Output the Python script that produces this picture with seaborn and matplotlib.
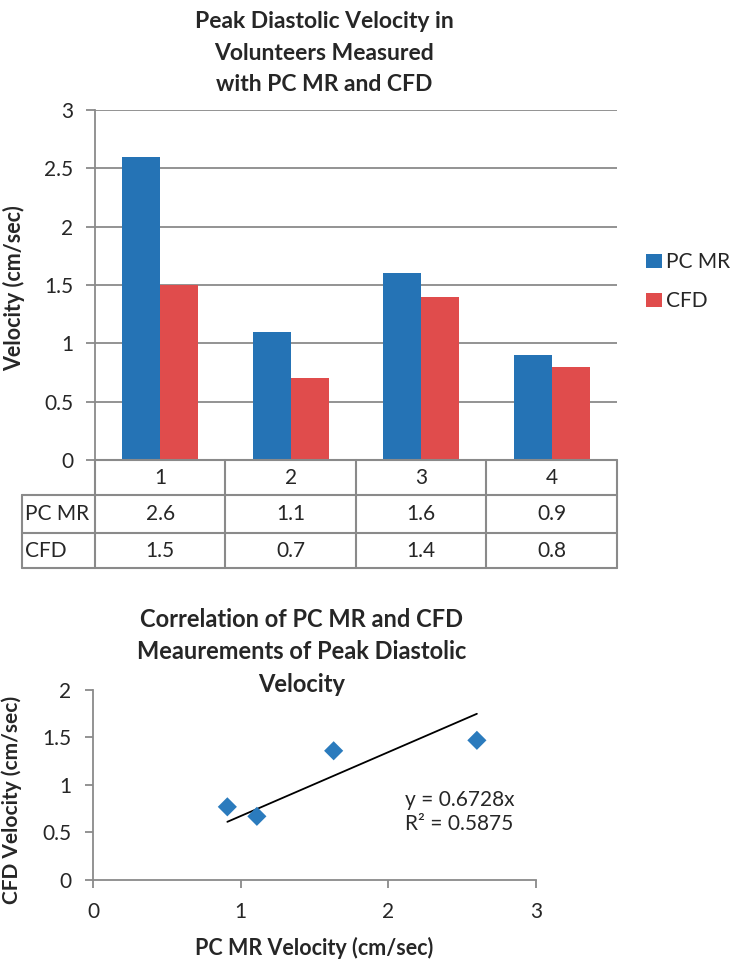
import matplotlib
matplotlib.use("Agg")
import matplotlib.pyplot as plt
import matplotlib.transforms as mtransforms
import pandas as pd
import seaborn as sns

# -------------------- DATA --------------------

volunteers = ["1", "2", "3", "4"]
series_names = ["PC MR", "CFD"]
pc_mr = [2.6, 1.1, 1.6, 0.9]
cfd = [1.5, 0.7, 1.4, 0.8]
bar_colors = ["#2573b5", "#e04c4c"]

# scatter points are the unrounded readings
scatter_pc_mr = [2.6, 1.11, 1.63, 0.91]
scatter_cfd = [1.47, 0.67, 1.36, 0.77]
slope = 0.6728
r_squared = 0.5875

top_yticks = [0, 0.5, 1, 1.5, 2, 2.5, 3]
bottom_xticks = [0, 1, 2, 3]
bottom_yticks = [0, 0.5, 1, 1.5, 2]

GRID = "#8a8a8a"
FONT = ["Lato", "DejaVu Sans"]

sns.set_style("white")
plt.rcParams["font.family"] = FONT

fig = plt.figure(figsize=(7.42, 9.65), dpi=100)

# -------------------- BAR CHART --------------------

df = pd.DataFrame({
    "volunteer": volunteers * 2,
    "series": [series_names[0]] * len(pc_mr) + [series_names[1]] * len(cfd),
    "velocity": pc_mr + cfd,
})

ax = fig.add_axes([0.128, 0.5233, 0.7035, 0.3627])
sns.barplot(data=df, x="volunteer", y="velocity", hue="series", palette=bar_colors,
            width=0.58, saturation=1, edgecolor="none", ax=ax)
ax.set_xlim(-0.5, 3.5)
ax.set_ylim(0, 3)
ax.set_yticks(top_yticks)
ax.set_yticklabels([f"{t:g}" for t in top_yticks])
ax.set_xticks([])
ax.set_xlabel("")
ax.set_ylabel("Velocity (cm/sec)", fontsize=15.5, fontweight="bold")
ax.yaxis.set_label_coords(-0.134, 0.49)
ax.yaxis.grid(True, color=GRID, lw=1.3)
ax.set_axisbelow(True)
for s in ["top", "right", "bottom"]:
    ax.spines[s].set_visible(False)
ax.spines["left"].set_color(GRID)
ax.spines["left"].set_linewidth(1.3)
ax.tick_params(axis="y", direction="out", length=6.5, width=1.3, color=GRID,
               labelsize=15, pad=9, left=True)

# data table under the bars
trans = mtransforms.blended_transform_factory(ax.transData, ax.transAxes)
row_edges = [0, -0.1, -0.2086, -0.3086]
col_edges = [-1.059, -0.5, 0.5, 1.5, 2.5, 3.5]
line_kw = dict(color=GRID, lw=1.5, transform=trans, clip_on=False)
ax.plot([col_edges[1], col_edges[-1]], [0, 0], **line_kw)
for y in row_edges[1:]:
    ax.plot([col_edges[0], col_edges[-1]], [y, y], **line_kw)
ax.plot([col_edges[0], col_edges[0]], [row_edges[1], row_edges[-1]], **line_kw)
for x in col_edges[1:]:
    ax.plot([x, x], [row_edges[0], row_edges[-1]], **line_kw)

rows = [volunteers, [f"{v:g}" for v in pc_mr], [f"{v:g}" for v in cfd]]
for r, cells in enumerate(rows):
    yc = (row_edges[r] + row_edges[r + 1]) / 2
    for c, txt in enumerate(cells):
        ax.text(c, yc, txt, transform=trans, ha="center", va="center", fontsize=15)
    if r > 0:
        ax.text(col_edges[0] + 0.02, yc, series_names[r - 1], transform=trans,
                ha="left", va="center", fontsize=15)

sns.move_legend(ax, "center left", bbox_to_anchor=(0.871, 0.708),
                bbox_transform=fig.transFigure, title=None, frameon=False,
                fontsize=15, handlelength=0.75, handleheight=0.65, handletextpad=0.2,
                labelspacing=0.9, borderaxespad=0, borderpad=0)

fig.text(0.4367, 0.945,
         "Peak Diastolic Velocity in\nVolunteers Measured\nwith PC MR and CFD",
         ha="center", va="center", fontsize=16.5, fontweight="bold", linespacing=1.6)

# -------------------- SCATTER --------------------

ax2 = fig.add_axes([0.1253, 0.0881, 0.597, 0.1969])
sns.scatterplot(x=scatter_pc_mr, y=scatter_cfd, marker="D", s=95, color="#2b7bbd",
                edgecolor="none", ax=ax2, zorder=3)
trend_x = [min(scatter_pc_mr), max(scatter_pc_mr)]
trend_y = [slope * v for v in trend_x]
sns.lineplot(x=trend_x, y=trend_y, color="black", lw=1.3, ax=ax2)
ax2.set_xlim(0, 3)
ax2.set_ylim(0, 2)
ax2.set_xticks(bottom_xticks)
ax2.set_xticklabels([f"{t:g}" for t in bottom_xticks])
ax2.set_yticks(bottom_yticks)
ax2.set_yticklabels([f"{t:g}" for t in bottom_yticks])
for s in ["top", "right"]:
    ax2.spines[s].set_visible(False)
for s in ["left", "bottom"]:
    ax2.spines[s].set_color(GRID)
    ax2.spines[s].set_linewidth(1.3)
ax2.tick_params(axis="both", direction="out", length=5.5, width=1.3, color=GRID,
                labelsize=15, bottom=True, left=True)
ax2.tick_params(axis="x", pad=10)
ax2.tick_params(axis="y", pad=10)
ax2.set_xlabel("PC MR Velocity (cm/sec)", fontsize=15.5, fontweight="bold")
ax2.xaxis.set_label_coords(0.5, -0.30)
ax2.set_ylabel("CFD Velocity (cm/sec)", fontsize=15, fontweight="bold")
ax2.yaxis.set_label_coords(-0.16, 0.42)
ax2.text(2.115, 0.72, f"y = {slope}x\nR\u00b2 = {r_squared}", fontsize=15,
         ha="left", va="center", linespacing=1.25)

fig.text(0.407, 0.3244,
         "Correlation of PC MR and CFD\nMeaurements of Peak Diastolic\nVelocity",
         ha="center", va="center", fontsize=17, fontweight="bold", linespacing=1.5)

fig.savefig("out.png", dpi=100)
